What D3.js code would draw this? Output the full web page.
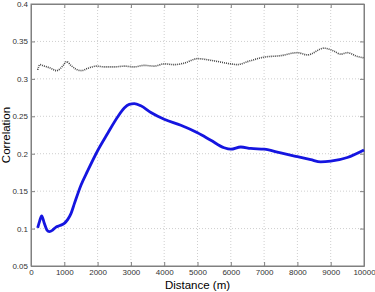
<!DOCTYPE html>
<html>
<head>
    <script src="https://cdnjs.cloudflare.com/ajax/libs/d3/7.8.5/d3.min.js"></script>
    <style>
        body { margin: 0; background: #fff; }
        text { font-family: Arial, "Liberation Sans", sans-serif; }
        .tick text { font-size: 8px; fill: #333; }
        .grid line { stroke: #cfcfcf; stroke-dasharray: 1,2; }
    </style>
</head>
<body>
    <div id="chart"></div>
    <script>
        const width = 375, height = 292;
        const margin = { top: 4, right: 11, bottom: 26, left: 31 };

        const xTicks = [0, 1000, 2000, 3000, 4000, 5000, 6000, 7000, 8000, 9000, 10000];
        const yTicks = [0.05, 0.1, 0.15, 0.2, 0.25, 0.3, 0.35, 0.4];

        // solid blue series
        const blueDist = [200, 260, 320, 400, 480, 550, 650, 750, 870, 1000, 1100, 1200, 1300, 1500, 1700, 2000, 2300, 2600, 2800, 2950, 3100, 3300, 3600, 4000, 4500, 5000, 5400, 5800, 6000, 6300, 6600, 7000, 7500, 8000, 8400, 8700, 9000, 9500, 10000];
        const blueCorr = [0.101, 0.110, 0.117, 0.107, 0.098, 0.096, 0.098, 0.102, 0.104, 0.107, 0.112, 0.120, 0.133, 0.158, 0.177, 0.204, 0.227, 0.249, 0.261, 0.266, 0.267, 0.264, 0.255, 0.246, 0.238, 0.228, 0.218, 0.208, 0.206, 0.209, 0.207, 0.206, 0.201, 0.196, 0.192, 0.189, 0.190, 0.195, 0.205];

        // dotted black series
        const dotDist = [200, 270, 400, 550, 770, 950, 1070, 1200, 1350, 1520, 1700, 1970, 2200, 2500, 2800, 3100, 3400, 3700, 4000, 4300, 4600, 5000, 5500, 6000, 6200, 6500, 7000, 7500, 8000, 8300, 8800, 9100, 9300, 9500, 9800, 10000];
        const dotCorr = [0.312, 0.319, 0.317, 0.315, 0.311, 0.317, 0.323, 0.318, 0.313, 0.311, 0.314, 0.317, 0.316, 0.316, 0.317, 0.316, 0.318, 0.317, 0.320, 0.319, 0.321, 0.327, 0.324, 0.320, 0.319, 0.323, 0.329, 0.331, 0.335, 0.332, 0.341, 0.337, 0.333, 0.335, 0.330, 0.328];

        const svg = d3.select("#chart").append("svg").attr("width", width).attr("height", height);

        const x = d3.scaleLinear().domain([0, 10000]).range([margin.left, width - margin.right]);
        const y = d3.scaleLinear().domain([0.05, 0.4]).range([height - margin.bottom, margin.top]);

        // grid
        svg.append("g").attr("class", "grid")
            .selectAll("line").data(xTicks.slice(1, -1)).enter().append("line")
            .attr("x1", d => x(d)).attr("x2", d => x(d))
            .attr("y1", margin.top).attr("y2", height - margin.bottom);
        svg.append("g").attr("class", "grid")
            .selectAll("line").data(yTicks.slice(1, -1)).enter().append("line")
            .attr("x1", margin.left).attr("x2", width - margin.right)
            .attr("y1", d => y(d)).attr("y2", d => y(d));

        // axes
        svg.append("g")
            .attr("transform", `translate(0,${height - margin.bottom})`)
            .call(d3.axisBottom(x).tickValues(xTicks).tickFormat(d3.format("d")).tickSizeInner(-4).tickSizeOuter(0).tickPadding(3));
        svg.append("g")
            .attr("transform", `translate(${margin.left},0)`)
            .call(d3.axisLeft(y).tickValues(yTicks).tickFormat(d => String(d)).tickSizeInner(-4).tickSizeOuter(0).tickPadding(3));
        svg.append("g").attr("transform", `translate(${width - margin.right},0)`)
            .call(d3.axisRight(y).tickValues(yTicks).tickFormat("").tickSizeInner(-4).tickSizeOuter(0));
        svg.append("g").attr("transform", `translate(0,${margin.top})`)
            .call(d3.axisTop(x).tickValues(xTicks).tickFormat("").tickSizeInner(-4).tickSizeOuter(0));
        svg.selectAll(".domain, .tick line").attr("stroke", "#808080");

        // box
        svg.append("rect")
            .attr("x", margin.left).attr("y", margin.top)
            .attr("width", width - margin.left - margin.right)
            .attr("height", height - margin.top - margin.bottom)
            .attr("fill", "none").attr("stroke", "#808080");

        const line = d3.line().x(d => x(d[0])).y(d => y(d[1])).curve(d3.curveMonotoneX);

        svg.append("path")
            .datum(dotDist.map((d, i) => [d, dotCorr[i]]))
            .attr("d", line)
            .attr("fill", "none")
            .attr("stroke", "#444")
            .attr("stroke-width", 1.6)
            .attr("stroke-dasharray", "1,1");

        svg.append("path")
            .datum(blueDist.map((d, i) => [d, blueCorr[i]]))
            .attr("d", line)
            .attr("fill", "none")
            .attr("stroke", "#1515e0")
            .attr("stroke-width", 2.8);

        svg.append("text")
            .attr("x", (margin.left + width - margin.right) / 2)
            .attr("y", 289)
            .attr("text-anchor", "middle")
            .style("font-size", "11.5px")
            .text("Distance (m)");

        svg.append("text")
            .attr("transform", `translate(10,${(margin.top + height - margin.bottom) / 2}) rotate(-90)`)
            .attr("text-anchor", "middle")
            .style("font-size", "11.5px")
            .text("Correlation");
    </script>
</body>
</html>
